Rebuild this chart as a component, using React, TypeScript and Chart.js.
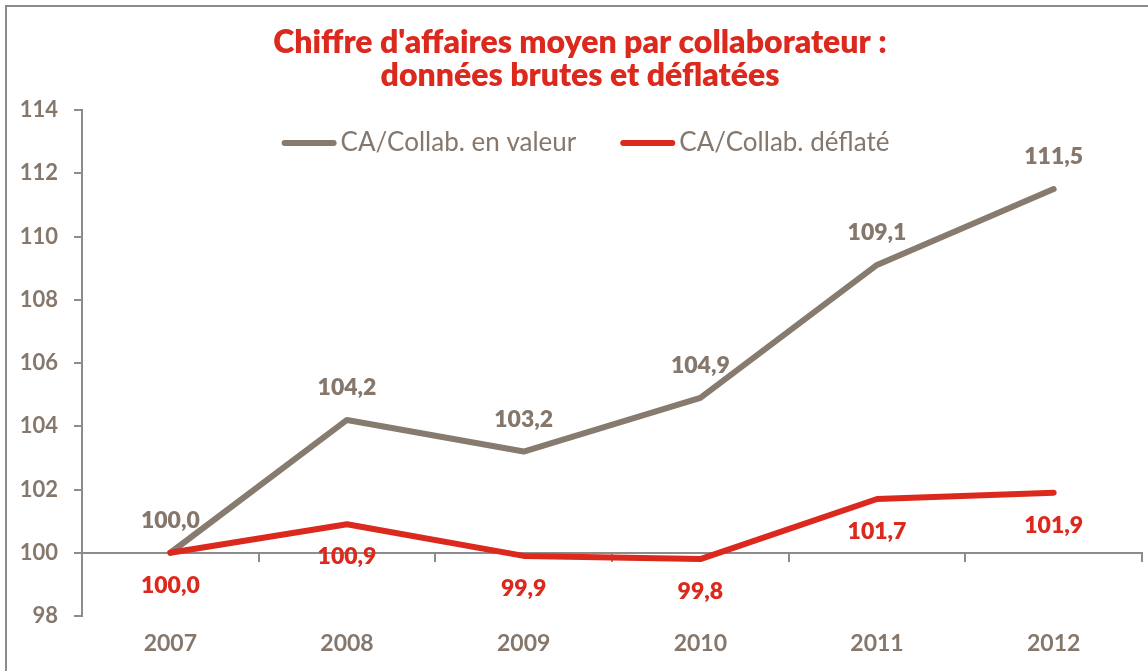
import React, { useEffect, useRef } from 'react';
import { Chart, registerables } from 'chart.js';

Chart.register(...registerables);

// ---- Data ----
const years: string[] = ['2007', '2008', '2009', '2010', '2011', '2012'];
const valeurSeries: number[] = [100.0, 104.2, 103.2, 104.9, 109.1, 111.5];
const deflateSeries: number[] = [100.0, 100.9, 99.9, 99.8, 101.7, 101.9];
const seriesLabels: string[] = ['CA/Collab. en valeur', 'CA/Collab. déflaté'];
const titleLines: string[] = ["Chiffre d'affaires moyen par collaborateur :", 'données brutes et déflatées'];
const yMin = 98;
const yMax = 114;
const yStep = 2;
const baseValue = 100;

// ---- Styles ----
const GRAY = '#877a6e';
const RED = '#dc291e';
const TEXT = '#85776b';
const AXIS = '#8c8c8c';
const FONT = 'Lato, "Open Sans", sans-serif';

const fmt = (v: number) => v.toFixed(1).replace('.', ',');

const valueLabelsPlugin = {
  id: 'valueLabels',
  afterDatasetsDraw(chart: any) {
    const ctx = chart.ctx;
    ctx.save();
    ctx.font = `800 23px ${FONT}`;
    ctx.textAlign = 'center';
    ctx.textBaseline = 'alphabetic';
    chart.data.datasets.forEach((ds: any, i: number) => {
      const meta = chart.getDatasetMeta(i);
      const dy = i === 0 ? -25 : 40;
      ctx.fillStyle = i === 0 ? TEXT : RED;
      meta.data.forEach((pt: any, j: number) => {
        ctx.fillText(fmt(ds.data[j]), pt.x, pt.y + dy);
      });
    });
    ctx.restore();
  },
};

const legendPlugin = {
  id: 'customLegend',
  afterDraw(chart: any) {
    const ctx = chart.ctx;
    ctx.save();
    ctx.font = `26px ${FONT}`;
    ctx.textBaseline = 'alphabetic';
    ctx.textAlign = 'left';
    const lineLen = 49;
    const capPad = 3;
    const gap = 4;
    const itemGap = 44;
    const datasets = chart.data.datasets;
    const widths = datasets.map((d: any) => ctx.measureText(d.label).width);
    let total = 0;
    widths.forEach((w: number, i: number) => {
      total += capPad * 2 + lineLen + gap + w;
      if (i < widths.length - 1) total += itemGap;
    });
    const centerX = chart.width / 2 + 11.5;
    let x = centerX - total / 2;
    const lineY = 143;
    const textY = 151;
    datasets.forEach((d: any, i: number) => {
      ctx.beginPath();
      ctx.strokeStyle = d.borderColor;
      ctx.lineWidth = 6;
      ctx.lineCap = 'round';
      ctx.moveTo(x + capPad, lineY);
      ctx.lineTo(x + capPad + lineLen, lineY);
      ctx.stroke();
      const tx = x + capPad * 2 + lineLen + gap;
      ctx.fillStyle = TEXT;
      ctx.fillText(d.label, tx, textY);
      x = tx + widths[i] + itemGap;
    });
    ctx.restore();
  },
};

export default function App() {
  const canvasRef = useRef<HTMLCanvasElement | null>(null);

  useEffect(() => {
    if (!canvasRef.current) return;
    const chart = new Chart(canvasRef.current, {
      type: 'line',
      data: {
        labels: years,
        datasets: [
          {
            label: seriesLabels[0],
            data: valeurSeries,
            borderColor: GRAY,
            backgroundColor: GRAY,
            borderWidth: 6,
            pointRadius: 0,
            pointHoverRadius: 0,
            tension: 0,
            borderCapStyle: 'round',
            borderJoinStyle: 'round',
            xAxisID: 'x',
            yAxisID: 'y',
            order: 1,
          },
          {
            label: seriesLabels[1],
            data: deflateSeries,
            borderColor: RED,
            backgroundColor: RED,
            borderWidth: 6,
            pointRadius: 0,
            pointHoverRadius: 0,
            tension: 0,
            borderCapStyle: 'round',
            borderJoinStyle: 'round',
            xAxisID: 'x',
            yAxisID: 'y',
            order: 0,
          },
        ],
      },
      options: {
        responsive: false,
        animation: false,
        devicePixelRatio: 1,
        layout: { padding: { left: 18, right: 6, top: 0, bottom: 0 } },
        plugins: {
          legend: { display: false },
          tooltip: { enabled: false },
          title: {
            display: true,
            text: titleLines,
            color: RED,
            font: { family: FONT, size: 32, weight: '800', lineHeight: 33 / 32 },
            padding: { top: 26, bottom: 18 },
          },
        },
        scales: {
          x: {
            type: 'category',
            offset: true,
            grid: { display: false, drawTicks: false },
            border: { display: false },
            ticks: {
              color: TEXT,
              font: { family: FONT, size: 23, weight: '700' },
              padding: 14,
            },
            afterFit: (s: any) => {
              s.height = 55;
            },
          },
          x2: {
            type: 'category',
            axis: 'x',
            labels: years,
            position: { y: baseValue },
            offset: true,
            grid: {
              offset: true,
              drawOnChartArea: false,
              drawTicks: true,
              tickLength: 8,
              color: AXIS,
              lineWidth: 2,
            },
            border: { display: true, color: AXIS, width: 2 },
            ticks: { display: false },
          },
          y: {
            min: yMin,
            max: yMax,
            ticks: {
              stepSize: yStep,
              color: TEXT,
              font: { family: FONT, size: 22, weight: '700' },
              padding: 16,
            },
            grid: { drawOnChartArea: false, tickLength: 8, color: AXIS, lineWidth: 2 },
            border: { display: true, color: AXIS, width: 2 },
            afterFit: (s: any) => {
              s.width = 64;
            },
          },
        },
      } as any,
      plugins: [valueLabelsPlugin, legendPlugin],
    });
    return () => chart.destroy();
  }, []);

  return (
    <div
      style={{
        position: 'fixed',
        left: 0,
        top: 0,
        width: 1148,
        height: 671,
        background: '#ffffff',
        overflow: 'hidden',
      }}
    >
      <div
        style={{
          position: 'absolute',
          left: 5,
          top: 5,
          width: 2000,
          height: 2000,
          borderTop: `2px solid ${AXIS}`,
          borderLeft: `2px solid ${AXIS}`,
        }}
      />
      <canvas
        ref={canvasRef}
        width={1148}
        height={671}
        style={{ position: 'absolute', left: 0, top: 0, width: 1148, height: 671 }}
      />
    </div>
  );
}
